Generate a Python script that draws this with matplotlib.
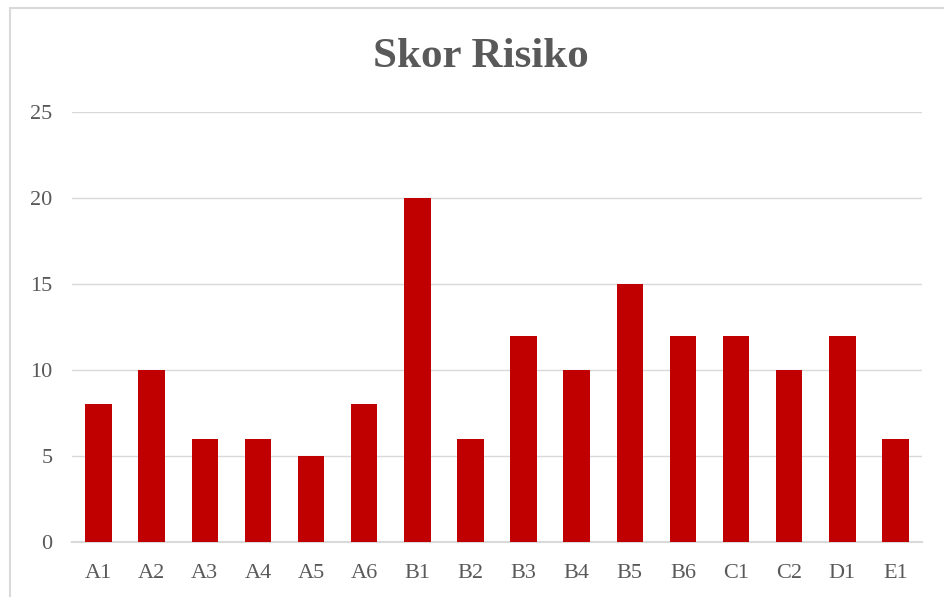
import matplotlib.pyplot as plt
from matplotlib.patches import Rectangle

categories = ["A1", "A2", "A3", "A4", "A5", "A6", "B1", "B2",
              "B3", "B4", "B5", "B6", "C1", "C2", "D1", "E1"]
scores = [8, 10, 6, 6, 5, 8, 20, 6, 12, 10, 15, 12, 12, 10, 12, 6]
y_ticks = [0, 5, 10, 15, 20, 25]

plt.rcParams['font.family'] = ['Liberation Serif', 'DejaVu Serif']

fig = plt.figure(figsize=(9.44, 5.97), dpi=100)
ax = fig.add_axes([72 / 944, 1 - 542 / 597, 850 / 944, 430 / 597])

x = range(len(categories))
ax.bar(x, scores, width=0.5, color="#C00000", zorder=3)

ax.set_xlim(-0.5, len(categories) - 0.5)
ax.set_ylim(0, 25)
ax.set_yticks(y_ticks)
ax.set_xticks(list(x))
ax.set_xticklabels(categories)
ax.tick_params(axis="both", length=0, labelsize=16, labelcolor="#595959")
ax.tick_params(axis="y", pad=14)
ax.tick_params(axis="x", pad=16)

ax.grid(axis="y", color="#D9D9D9", linewidth=1.0, zorder=0)
for s in ["top", "right", "left"]:
    ax.spines[s].set_visible(False)
ax.spines["bottom"].set_color("#D9D9D9")
ax.spines["bottom"].set_linewidth(1.5)

fig.text(481 / 944, 1 - 57 / 597, "Skor Risiko", ha="center", va="center",
         fontsize=31, fontweight="bold", color="#595959")

# chart frame (only left and top edges show in the crop)
frame = Rectangle((10 / 944, -0.1), 1.2, (1 - 8 / 597) + 0.1,
                  transform=fig.transFigure, fill=False,
                  edgecolor="#D9D9D9", linewidth=1.5)
fig.patches.append(frame)

fig.savefig("out.png", dpi=100)
